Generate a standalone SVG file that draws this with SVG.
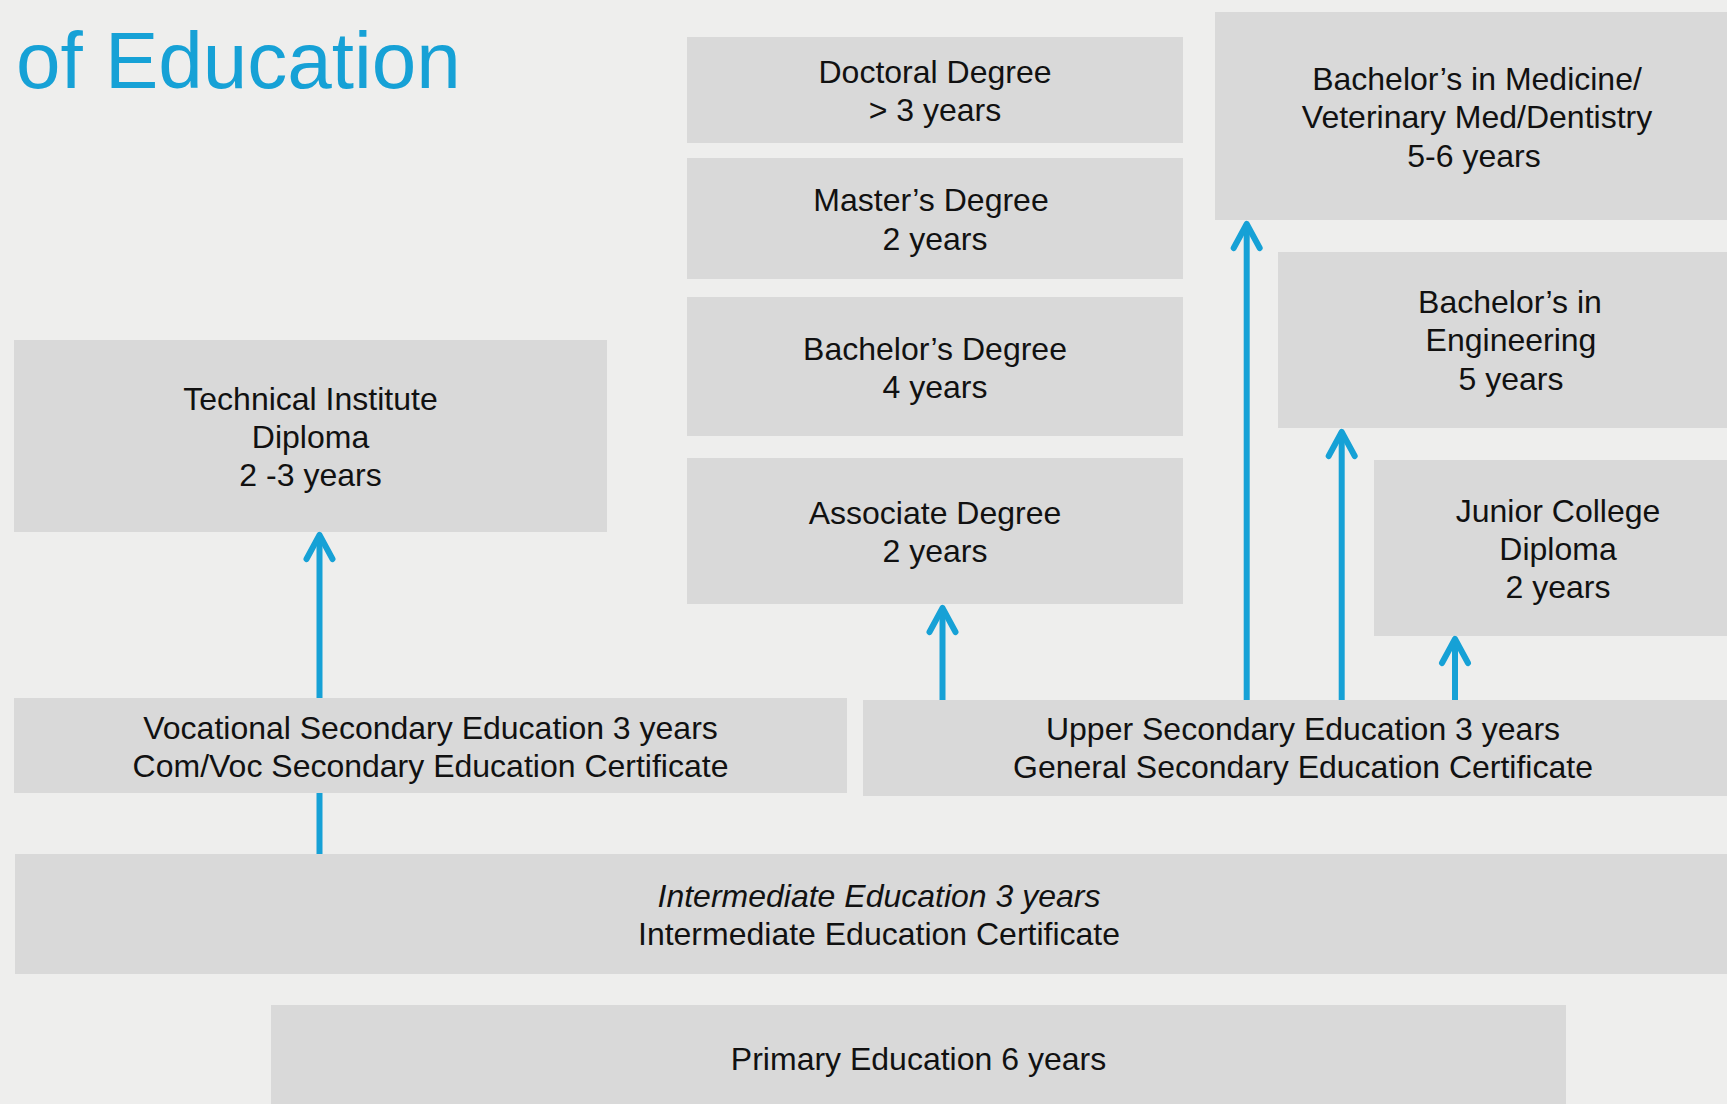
<svg xmlns="http://www.w3.org/2000/svg" width="1727" height="1104" viewBox="0 0 1727 1104">
<style>
.bg{fill:#eeeeed}
.box{fill:#d9d9d9}
.t{font-family:"Liberation Sans",Arial,sans-serif;font-size:32px;fill:#111;text-anchor:middle}
.title{font-family:"Liberation Sans",Arial,sans-serif;font-size:80px;fill:#16a1d6}
.c{stroke:#16a1d6;stroke-width:6;fill:none}
</style>
<defs>
<marker id="ah" viewBox="-30 -20 40 40" markerWidth="40" markerHeight="40" markerUnits="userSpaceOnUse" refX="0" refY="0" orient="auto">
<path d="M-24,-13 L0,0 L-24,13" fill="none" stroke="#16a1d6" stroke-width="6" stroke-linecap="round" stroke-linejoin="round"/>
</marker>
</defs>
<rect class="bg" x="0" y="0" width="1727" height="1104"/>
<text class="title" x="16" y="88">of Education</text>

<g id="doctoral"><rect class="box" x="687" y="37" width="496" height="106"/>
<text class="t" x="935" y="83">Doctoral Degree</text><text class="t" x="935" y="121">&gt; 3 years</text></g>

<g id="masters"><rect class="box" x="687" y="158" width="496" height="121"/>
<text class="t" x="931" y="211">Master’s Degree</text><text class="t" x="935" y="250">2 years</text></g>

<g id="bachelors"><rect class="box" x="687" y="297" width="496" height="139"/>
<text class="t" x="935" y="360">Bachelor’s Degree</text><text class="t" x="935" y="398">4 years</text></g>

<g id="associate"><rect class="box" x="687" y="458" width="496" height="146"/>
<text class="t" x="935" y="524">Associate Degree</text><text class="t" x="935" y="562">2 years</text></g>

<g id="medicine"><rect class="box" x="1215" y="12" width="520" height="208"/>
<text class="t" x="1477" y="90">Bachelor’s in Medicine/</text><text class="t" x="1477" y="128">Veterinary Med/Dentistry</text><text class="t" x="1474" y="167">5-6 years</text></g>

<g id="engineering"><rect class="box" x="1278" y="252" width="460" height="176"/>
<text class="t" x="1510" y="313">Bachelor’s in</text><text class="t" x="1511" y="351">Engineering</text><text class="t" x="1511" y="390">5 years</text></g>

<g id="junior"><rect class="box" x="1374" y="460" width="360" height="176"/>
<text class="t" x="1558" y="522">Junior College</text><text class="t" x="1558" y="560">Diploma</text><text class="t" x="1558" y="598">2 years</text></g>

<g id="technical"><rect class="box" x="14" y="340" width="593" height="192"/>
<text class="t" x="310.5" y="410">Technical Institute</text><text class="t" x="310.5" y="448">Diploma</text><text class="t" x="310.5" y="486">2 -3 years</text></g>

<g id="vocational"><rect class="box" x="14" y="698" width="833" height="95"/>
<text class="t" x="430.5" y="739">Vocational Secondary Education 3 years</text><text class="t" x="430.5" y="777">Com/Voc Secondary Education Certificate</text></g>

<g id="upper"><rect class="box" x="863" y="700" width="870" height="96"/>
<text class="t" x="1303" y="740">Upper Secondary Education 3 years</text><text class="t" x="1303" y="778">General Secondary Education Certificate</text></g>

<g id="intermediate"><rect class="box" x="15" y="854" width="1720" height="120"/>
<text class="t" x="879" y="907" font-style="italic">Intermediate Education 3 years</text><text class="t" x="879" y="945">Intermediate Education Certificate</text></g>

<g id="primary"><rect class="box" x="271" y="1005" width="1295" height="110"/>
<text class="t" x="918.5" y="1070">Primary Education 6 years</text></g>

<g id="connectors">
<path class="c" d="M319.5,854 V793"/>
<path class="c" d="M319.5,698 V535" marker-end="url(#ah)"/>
<path class="c" d="M942.5,700 V608" marker-end="url(#ah)"/>
<path class="c" d="M1246.7,700 V224" marker-end="url(#ah)"/>
<path class="c" d="M1341.7,700 V432" marker-end="url(#ah)"/>
<path class="c" d="M1455,700 V639" marker-end="url(#ah)"/>
</g>
</svg>
